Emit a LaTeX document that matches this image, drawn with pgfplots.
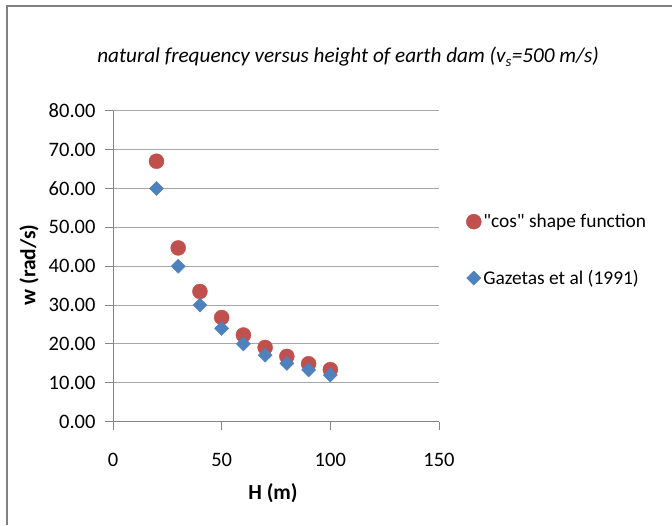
\documentclass[border=0pt]{standalone}
\usepackage{pgfplots}
\pgfplotsset{compat=1.18}
\usepackage{fontspec}
\setmainfont{Carlito}[Ligatures=TeXOff]
\definecolor{cosred}{HTML}{C0504D}
\definecolor{gazblue}{HTML}{4F81BD}
\definecolor{gridgray}{HTML}{A6A6A6}
\definecolor{axisgray}{HTML}{868686}
\definecolor{framegray}{HTML}{808080}
\begin{document}
\begin{tikzpicture}[x=1pt,y=1pt]
\useasboundingbox (0,0) rectangle (672,525);
\draw[framegray, line width=2.2pt] (7,0) -- (7,519) -- (672,519);
\begin{axis}[
  at={(113pt,103.3pt)}, anchor=south west,
  scale only axis, width=326pt, height=311pt,
  xmin=0, xmax=150, ymin=0, ymax=80,
  xtick={0,50,100,150}, ytick={0,10,...,80},
  axis lines*=left,
  tick align=outside,
  major tick length=8pt,
  ymajorgrids,
  grid style={gridgray, line width=0.9pt},
  axis line style={axisgray, line width=0.9pt},
  tick style={axisgray, line width=0.9pt},
  /pgf/number format/assume math mode=true,
  yticklabel style={xshift=-6pt, /pgf/number format/fixed, /pgf/number format/fixed zerofill, /pgf/number format/precision=2},
  xticklabel style={yshift=-20pt},
  ticklabel style={font=\fontsize{20.5}{24}\selectfont},
  legend style={at={(1.074,0.552)}, anchor=west, draw=none, fill=none,
    font=\fontsize{19.4}{23}\selectfont, row sep=37pt},
  legend cell align=left,
  legend image code/.code={\draw[mark repeat=2,mark phase=2,#1] plot coordinates {(0pt,0pt) (6pt,0pt) (12pt,0pt)};},
]
\addplot[only marks, mark=*, mark size=7.5pt, mark options={fill=cosred, draw=cosred}]
  coordinates {(20,67.0) (30,44.7) (40,33.5) (50,26.8) (60,22.3) (70,19.1) (80,16.8) (90,14.9) (100,13.4)};
\addlegendentry{"cos" shape function}
\addplot[only marks, mark=square*, mark size=5pt, mark options={rotate=45, fill=gazblue, draw=gazblue}]
  coordinates {(20,60.0) (30,40.0) (40,30.0) (50,24.0) (60,20.0) (70,17.1) (80,15.0) (90,13.3) (100,12.0)};
\addlegendentry{Gazetas et al (1991)}
\end{axis}
\node at (348,468) {\fontsize{21.2}{25}\selectfont\itshape natural frequency versus height of earth dam (v\textsubscript{s}=500 m/s)};
\node at (273,32) {\fontsize{21.5}{24}\selectfont\bfseries H (m)};
\node[rotate=90] at (29,260) {\fontsize{21.5}{24}\selectfont\bfseries w (rad/s)};
\end{tikzpicture}
\end{document}
